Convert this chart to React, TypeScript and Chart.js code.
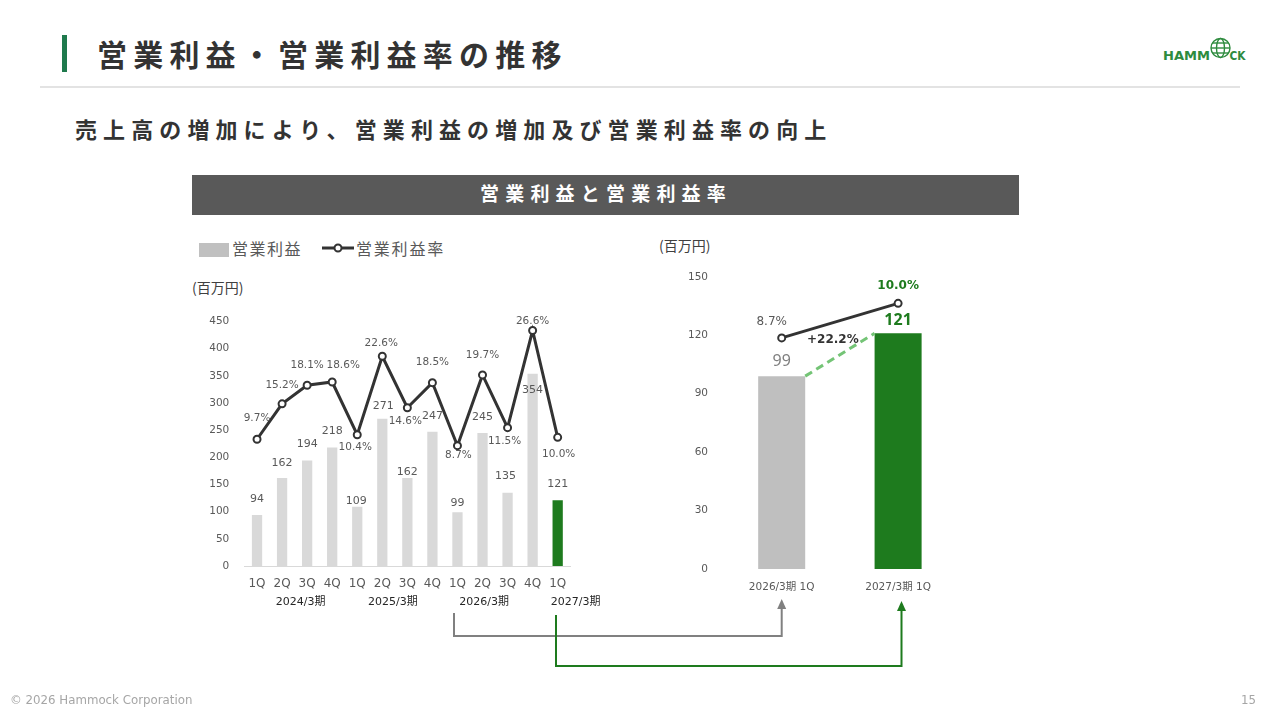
import React, { useEffect, useRef } from 'react';
import { Chart, registerables } from 'chart.js';

Chart.register(...registerables);

// ---------- data ----------
const quarterLabels = ['1Q', '2Q', '3Q', '4Q', '1Q', '2Q', '3Q', '4Q', '1Q', '2Q', '3Q', '4Q', '1Q'];
const fiscalYearLabels = ['2024/3期', '2025/3期', '2026/3期', '2027/3期'];
const quartersPerFiscalYear = [4, 4, 4, 1];
const operatingProfit = [94, 162, 194, 218, 109, 271, 162, 247, 99, 245, 135, 354, 121];
const operatingMargin = [9.7, 15.2, 18.1, 18.6, 10.4, 22.6, 14.6, 18.5, 8.7, 19.7, 11.5, 26.6, 10.0];
const profitTicks = [0, 50, 100, 150, 200, 250, 300, 350, 400, 450];

const compareLabels = ['2026/3期 1Q', '2027/3期 1Q'];
const compareProfit = [99, 121];
const compareMargin = [8.7, 10.0];
const compareTicks = [0, 30, 60, 90, 120, 150];
const profitGrowth = '+22.2%';

// ---------- style ----------
const FONT_NUM = '"DejaVu Sans", "Noto Sans CJK JP", sans-serif';
const FONT_JP = '"Noto Sans CJK JP", "Noto Sans", sans-serif';
const GREEN = '#1e7b1e';
const LIGHT_BAR = '#d9d9d9';
const MID_BAR = '#bfbfbf';
const LINE = '#333333';
const TEXT_GRAY = '#595959';

// label nudges (style only, in px)
const barLabelShift: [number, number][] = [
  [0, -16], [0, -15], [0, -16], [0, -16], [-1, -6], [1, -13], [0, -6],
  [0, -16], [0, -9], [0, -16], [-2, -17], [0, 16], [0, -16],
];
const marginLabelShift: [number, number][] = [
  [0, -21], [0, -19], [0, -20], [11, -17], [-2, 13], [-1, -13], [-2, 14],
  [0, -20], [1, 10], [0, -20], [-3, 14], [0, -9], [1, 17],
];
const fiscalLabelDx = [6, -2, -11, 18];

const trendLabelsPlugin = {
  id: 'trendLabels',
  afterDatasetsDraw(chart: any) {
    const ctx = chart.ctx as CanvasRenderingContext2D;
    const lineMeta = chart.getDatasetMeta(0);
    const barMeta = chart.getDatasetMeta(1);
    ctx.save();
    ctx.textAlign = 'center';
    ctx.textBaseline = 'middle';
    ctx.fillStyle = TEXT_GRAY;
    ctx.font = `11px ${FONT_NUM}`;
    barMeta.data.forEach((el: any, i: number) => {
      const [dx, dy] = barLabelShift[i];
      ctx.fillText(String(operatingProfit[i]), el.x + dx, el.y + dy);
    });
    ctx.font = `10.5px ${FONT_NUM}`;
    lineMeta.data.forEach((el: any, i: number) => {
      const [dx, dy] = marginLabelShift[i];
      ctx.fillText(operatingMargin[i].toFixed(1) + '%', el.x + dx, el.y + dy);
    });
    // fiscal year group labels
    const xs = chart.scales.x;
    ctx.fillStyle = '#262626';
    ctx.font = `11px ${FONT_NUM}`;
    let start = 0;
    fiscalYearLabels.forEach((label, k) => {
      const n = quartersPerFiscalYear[k];
      const cx = xs.getPixelForValue(start + (n - 1) / 2) + fiscalLabelDx[k];
      ctx.fillText(label, cx, chart.chartArea.bottom + 36);
      start += n;
    });
    ctx.restore();
  },
};

const compareLabelsPlugin = {
  id: 'compareLabels',
  afterDatasetsDraw(chart: any) {
    const ctx = chart.ctx as CanvasRenderingContext2D;
    const lineMeta = chart.getDatasetMeta(0);
    const barMeta = chart.getDatasetMeta(1);
    const b0 = barMeta.data[0];
    const b1 = barMeta.data[1];
    ctx.save();
    // dashed connector between bar tops
    ctx.strokeStyle = '#74c476';
    ctx.lineWidth = 3;
    ctx.setLineDash([8, 5]);
    ctx.beginPath();
    ctx.moveTo(b0.x + b0.width / 2, b0.y);
    ctx.lineTo(b1.x - b1.width / 2, b1.y);
    ctx.stroke();
    ctx.setLineDash([]);

    ctx.textAlign = 'center';
    ctx.textBaseline = 'middle';
    // bar value labels
    ctx.fillStyle = '#808080';
    ctx.font = `16px "Noto Sans", ${FONT_NUM}`;
    ctx.fillText(String(compareProfit[0]), b0.x, b0.y - 15);
    ctx.fillStyle = GREEN;
    ctx.font = `bold 16px "Noto Sans", ${FONT_NUM}`;
    ctx.fillText(String(compareProfit[1]), b1.x, b1.y - 13);
    // margin labels
    const p0 = lineMeta.data[0];
    const p1 = lineMeta.data[1];
    ctx.fillStyle = TEXT_GRAY;
    ctx.font = `12px ${FONT_NUM}`;
    ctx.fillText(compareMargin[0].toFixed(1) + '%', p0.x - 10, p0.y - 16);
    ctx.fillStyle = GREEN;
    ctx.font = `bold 12px ${FONT_NUM}`;
    ctx.fillText(compareMargin[1].toFixed(1) + '%', p1.x, p1.y - 17);
    // growth label
    ctx.fillStyle = LINE;
    ctx.font = `bold 12px ${FONT_NUM}`;
    ctx.fillText(profitGrowth, (b0.x + b1.x) / 2 - 7, b1.y + 7);
    ctx.restore();
  },
};

function TrendChart() {
  const ref = useRef<HTMLCanvasElement>(null);
  useEffect(() => {
    const chart = new Chart(ref.current as HTMLCanvasElement, {
      type: 'bar',
      data: {
        labels: quarterLabels,
        datasets: [
          {
            type: 'line',
            data: operatingMargin,
            yAxisID: 'y1',
            borderColor: LINE,
            borderWidth: 3,
            pointRadius: 3.5,
            pointBorderWidth: 2,
            pointBackgroundColor: '#ffffff',
            pointBorderColor: LINE,
            tension: 0,
            order: 0,
          } as any,
          {
            type: 'bar',
            data: operatingProfit,
            yAxisID: 'y',
            backgroundColor: operatingProfit.map((_, i) => (i === operatingProfit.length - 1 ? GREEN : LIGHT_BAR)),
            barPercentage: 0.41,
            categoryPercentage: 1,
            order: 1,
          } as any,
        ],
      },
      options: {
        responsive: false,
        animation: false,
        layout: { padding: { left: 0, right: 49.8, top: 20.7, bottom: 0 } },
        plugins: { legend: { display: false }, tooltip: { enabled: false } },
        scales: {
          x: {
            grid: { display: false, drawTicks: false, tickLength: 0 },
            border: { display: true, color: '#d9d9d9', width: 1 },
            ticks: { color: TEXT_GRAY, font: { family: FONT_NUM, size: 12 }, padding: 11, maxRotation: 0, autoSkip: false },
            afterFit: (s: any) => { s.height = 54; },
          },
          y: {
            min: profitTicks[0],
            max: profitTicks[profitTicks.length - 1],
            grid: { display: false, drawTicks: false, tickLength: 0 },
            border: { display: false },
            ticks: { stepSize: profitTicks[1] - profitTicks[0], color: TEXT_GRAY, font: { family: FONT_NUM, size: 10.5 }, padding: 15.2 },
            afterFit: (s: any) => { s.width = 54.5; },
          },
          y1: { display: false, min: -10, max: 28 },
        },
      } as any,
      plugins: [trendLabelsPlugin],
    });
    return () => chart.destroy();
  }, []);
  return (
    <canvas
      ref={ref}
      width={430}
      height={320}
      style={{ position: 'absolute', left: 190, top: 300, width: 430, height: 320 }}
    />
  );
}

function CompareChart() {
  const ref = useRef<HTMLCanvasElement>(null);
  useEffect(() => {
    const chart = new Chart(ref.current as HTMLCanvasElement, {
      type: 'bar',
      data: {
        labels: compareLabels,
        datasets: [
          {
            type: 'line',
            data: compareMargin,
            yAxisID: 'y1',
            borderColor: LINE,
            borderWidth: 3,
            pointRadius: 3.5,
            pointBorderWidth: 2,
            pointBackgroundColor: '#ffffff',
            pointBorderColor: LINE,
            order: 0,
          } as any,
          {
            type: 'bar',
            data: compareProfit,
            yAxisID: 'y',
            backgroundColor: [MID_BAR, GREEN],
            barPercentage: 0.404,
            categoryPercentage: 1,
            order: 1,
          } as any,
        ],
      },
      options: {
        responsive: false,
        animation: false,
        layout: { padding: { left: 0, right: 23.7, top: 21, bottom: 0 } },
        plugins: { legend: { display: false }, tooltip: { enabled: false } },
        scales: {
          x: {
            grid: { display: false, drawTicks: false, tickLength: 0 },
            border: { display: false },
            ticks: { color: TEXT_GRAY, font: { family: FONT_NUM, size: 10.5 }, padding: 12, maxRotation: 0 },
            afterFit: (s: any) => { s.height = 36; },
          },
          y: {
            min: compareTicks[0],
            max: compareTicks[compareTicks.length - 1],
            grid: { display: false, drawTicks: false, tickLength: 0 },
            border: { display: false },
            ticks: { stepSize: compareTicks[1] - compareTicks[0], color: TEXT_GRAY, font: { family: FONT_NUM, size: 10.5 }, padding: 15.5 },
            afterFit: (s: any) => { s.width = 73.5; },
          },
          y1: { display: false, min: 0, max: 11 },
        },
      } as any,
      plugins: [compareLabelsPlugin],
    });
    return () => chart.destroy();
  }, []);
  return (
    <canvas
      ref={ref}
      width={330}
      height={350}
      style={{ position: 'absolute', left: 650, top: 255, width: 330, height: 350 }}
    />
  );
}

const abs = (s: React.CSSProperties): React.CSSProperties => ({ position: 'absolute', ...s });

export default function App() {
  return (
    <div style={{ position: 'fixed', left: 0, top: 0, width: 1280, height: 720, background: '#ffffff', overflow: 'hidden', fontFamily: FONT_JP }}>
      {/* title */}
      <div style={abs({ left: 62, top: 35, width: 5, height: 37, background: '#1f7a4d' })} />
      <div style={abs({ left: 97, top: 38, fontSize: 30, lineHeight: '30px', fontWeight: 700, letterSpacing: 6.2, color: '#333333', whiteSpace: 'nowrap' })}>
        営業利益・営業利益率の推移
      </div>
      <div style={abs({ left: 40, top: 86, width: 1200, height: 2, background: '#e3e3e3' })} />
      {/* logo */}
      <svg style={abs({ left: 1160, top: 36, width: 92, height: 30 })} viewBox="0 0 92 30">
        <text x="3" y="24" fontFamily={FONT_NUM} fontWeight="bold" fontSize="13" fill="#2e8b3e" textLength="47" lengthAdjust="spacingAndGlyphs">HAMM</text>
        <g stroke="#2e8b3e" strokeWidth="1.4" fill="none">
          <circle cx="60.5" cy="12" r="9.5" />
          <ellipse cx="60.5" cy="12" rx="4" ry="9.5" />
          <line x1="51" y1="12" x2="70" y2="12" />
          <line x1="52.5" y1="7" x2="68.5" y2="7" />
          <line x1="52.5" y1="17" x2="68.5" y2="17" />
        </g>
        <text x="69.5" y="24" fontFamily={FONT_NUM} fontWeight="bold" fontSize="13" fill="#2e8b3e" textLength="16" lengthAdjust="spacingAndGlyphs">CK</text>
      </svg>
      {/* subtitle */}
      <div style={abs({ left: 75, top: 117, fontSize: 22, lineHeight: '22px', fontWeight: 700, letterSpacing: 6.1, color: '#333333', whiteSpace: 'nowrap' })}>
        売上高の増加により、営業利益の増加及び営業利益率の向上
      </div>
      {/* header bar */}
      <div style={abs({ left: 192, top: 175, width: 827, height: 40, background: '#595959' })} />
      <div style={abs({ left: 480, top: 183, fontSize: 19, lineHeight: '20px', fontWeight: 700, letterSpacing: 6.2, color: '#ffffff', whiteSpace: 'nowrap' })}>
        営業利益と営業利益率
      </div>
      {/* legend */}
      <div style={abs({ left: 199, top: 243, width: 30, height: 14, background: '#c0c0c0' })} />
      <div style={abs({ left: 232, top: 240, fontSize: 16, lineHeight: '16px', letterSpacing: 1.5, color: TEXT_GRAY, whiteSpace: 'nowrap' })}>営業利益</div>
      <svg style={abs({ left: 320, top: 240, width: 36, height: 16 })} viewBox="0 0 36 16">
        <line x1="2" y1="8" x2="34" y2="8" stroke={LINE} strokeWidth="3" />
        <circle cx="18" cy="8" r="3.5" fill="#ffffff" stroke={LINE} strokeWidth="2" />
      </svg>
      <div style={abs({ left: 356, top: 240, fontSize: 16, lineHeight: '16px', letterSpacing: 1.8, color: TEXT_GRAY, whiteSpace: 'nowrap' })}>営業利益率</div>
      {/* unit labels */}
      <div style={abs({ left: 192, top: 280, fontSize: 14, lineHeight: '14px', color: '#404040', whiteSpace: 'nowrap' })}>(百万円)</div>
      <div style={abs({ left: 659, top: 238, fontSize: 14, lineHeight: '14px', color: '#404040', whiteSpace: 'nowrap' })}>(百万円)</div>

      <TrendChart />
      <CompareChart />

      {/* connector arrows */}
      <svg style={abs({ left: 0, top: 0, width: 1280, height: 720, pointerEvents: 'none' })} viewBox="0 0 1280 720">
        <polyline points="454,613 454,636 781.7,636 781.7,608" fill="none" stroke="#808080" strokeWidth="2" />
        <polygon points="781.7,599 777.2,609 786.2,609" fill="#808080" />
        <polyline points="556,615 556,666 901.5,666 901.5,610" fill="none" stroke={GREEN} strokeWidth="2" />
        <polygon points="901.5,601 897,611 906,611" fill={GREEN} />
      </svg>

      {/* footer */}
      <div style={abs({ left: 10, top: 693, fontSize: 11.8, lineHeight: '14px', fontFamily: FONT_NUM, color: '#a6a6a6', whiteSpace: 'nowrap' })}>
        © 2026 Hammock Corporation
      </div>
      <div style={abs({ left: 1241, top: 693, fontSize: 11.8, lineHeight: '14px', fontFamily: FONT_NUM, color: '#a6a6a6' })}>15</div>
    </div>
  );
}
